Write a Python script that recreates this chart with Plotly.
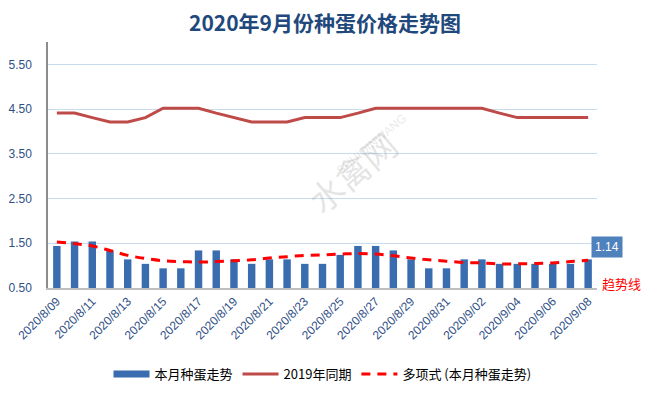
import plotly.graph_objects as go

dates = ["2020/8/09", "2020/8/10", "2020/8/11", "2020/8/12", "2020/8/13", "2020/8/14",
         "2020/8/15", "2020/8/16", "2020/8/17", "2020/8/18", "2020/8/19", "2020/8/20",
         "2020/8/21", "2020/8/22", "2020/8/23", "2020/8/24", "2020/8/25", "2020/8/26",
         "2020/8/27", "2020/8/28", "2020/8/29", "2020/8/30", "2020/8/31", "2020/9/01",
         "2020/9/02", "2020/9/03", "2020/9/04", "2020/9/05", "2020/9/06", "2020/9/07",
         "2020/9/08"]

this_month = [1.44, 1.54, 1.54, 1.34, 1.14, 1.04, 0.94, 0.94, 1.34, 1.34, 1.14, 1.04,
              1.14, 1.14, 1.04, 1.04, 1.24, 1.44, 1.44, 1.34, 1.14, 0.94, 0.94, 1.14,
              1.14, 1.04, 1.04, 1.04, 1.04, 1.04, 1.14]

same_2019 = [4.41, 4.41, 4.31, 4.21, 4.21, 4.31, 4.52, 4.52, 4.52, 4.41, 4.31, 4.21,
             4.21, 4.21, 4.31, 4.31, 4.31, 4.41, 4.52, 4.52, 4.52, 4.52, 4.52, 4.52,
             4.52, 4.41, 4.31, 4.31, 4.31, 4.31, 4.31]

trend = [1.53, 1.49, 1.44, 1.34, 1.23, 1.16, 1.11, 1.09, 1.08, 1.09, 1.11, 1.13,
         1.17, 1.20, 1.23, 1.24, 1.26, 1.27, 1.26, 1.22, 1.17, 1.13, 1.10, 1.07,
         1.06, 1.04, 1.04, 1.05, 1.06, 1.09, 1.12]

tick_labels = dates[::2]

names = ["本月种蛋走势", "2019年同期", "多项式 (本月种蛋走势)"]
title_text = "2020年9月份种蛋价格走势图"

font_family = "Noto Sans CJK SC, Noto Sans, sans-serif"
latin_family = "Liberation Sans, Arial, sans-serif"
bar_color = "#396db0"
line_color = "#be4b48"
trend_color = "#ff0000"
tick_color = "#2f4f86"

fig = go.Figure()

fig.add_trace(go.Bar(
    x=dates, y=this_month, name=names[0],
    marker=dict(color=bar_color, line=dict(width=0)),
    width=0.42, showlegend=False,
))
# legend-only entry with a wide swatch for the bar series
fig.add_trace(go.Scatter(
    x=[None], y=[None], mode="lines", name=names[0],
    line=dict(color=bar_color, width=7),
))
fig.add_trace(go.Scatter(
    x=dates, y=same_2019, mode="lines", name=names[1],
    line=dict(color=line_color, width=3),
))
fig.add_trace(go.Scatter(
    x=dates, y=trend, mode="lines", name=names[2],
    line=dict(color=trend_color, width=3, dash="9px,7px"), line_shape="spline",
))

fig.update_layout(
    width=650, height=395,
    margin=dict(l=48, r=53, t=42, b=107, autoexpand=False),
    paper_bgcolor="white", plot_bgcolor="white",
    font=dict(family=font_family, color=tick_color),
    title=dict(text="<b>" + title_text + "</b>", x=0.5, xanchor="center", y=0.94,
               yanchor="middle", font=dict(size=21, color="#1f497d", family=font_family)),
    showlegend=True,
    legend=dict(orientation="h", x=0.5, xanchor="center", y=-0.35, yanchor="middle",
                font=dict(size=13, color="#000000", family=font_family),
                itemwidth=36, traceorder="normal"),
)

fig.update_xaxes(
    type="category", tickmode="array", tickvals=tick_labels, ticktext=tick_labels,
    tickangle=-45, tickfont=dict(size=12, color=tick_color, family=latin_family),
    showgrid=False, showline=True, linecolor="#bfbfbf", linewidth=1.5, ticks="",
    zeroline=False, range=[-0.5, len(dates) - 0.5], automargin=False,
)
fig.update_yaxes(
    range=[0.5, 6.0], tickmode="linear", tick0=0.5, dtick=1.0, tickformat=".2f",
    tickfont=dict(size=12, color=tick_color, family=latin_family),
    showgrid=True, gridcolor="#c9dcee", gridwidth=1,
    showline=True, linecolor="#8c8c8c", linewidth=1.5, ticks="", zeroline=False,
    ticklabelstandoff=12, automargin=False,
)

# data label for the last bar
fig.add_annotation(
    x=dates[-1], y=this_month[-1], text="1.14", showarrow=False,
    xshift=19, yshift=12, bgcolor="#4f81bd",
    font=dict(color="white", size=12, family=latin_family), borderpad=3,
)
fig.add_annotation(
    x=dates[-1], y=0.5, text="趋势线", showarrow=False, xshift=33, yshift=5,
    font=dict(color="#ff0000", size=13, family=font_family),
)

# faint watermark
fig.add_annotation(
    xref="paper", yref="paper", x=0.554, y=0.695, text="水禽网", showarrow=False,
    textangle=-40, font=dict(size=34, color="rgba(150,150,150,0.25)", family=font_family),
)
fig.add_annotation(
    xref="paper", yref="paper", x=0.59, y=0.585, text="SHUIQINWANG", showarrow=False,
    textangle=-40, font=dict(size=12, color="rgba(150,150,150,0.22)", family=latin_family),
)

fig.write_html("out.html", config={"displayModeBar": False},
               post_script="document.body.style.margin='0px';document.body.style.overflow='hidden';")
